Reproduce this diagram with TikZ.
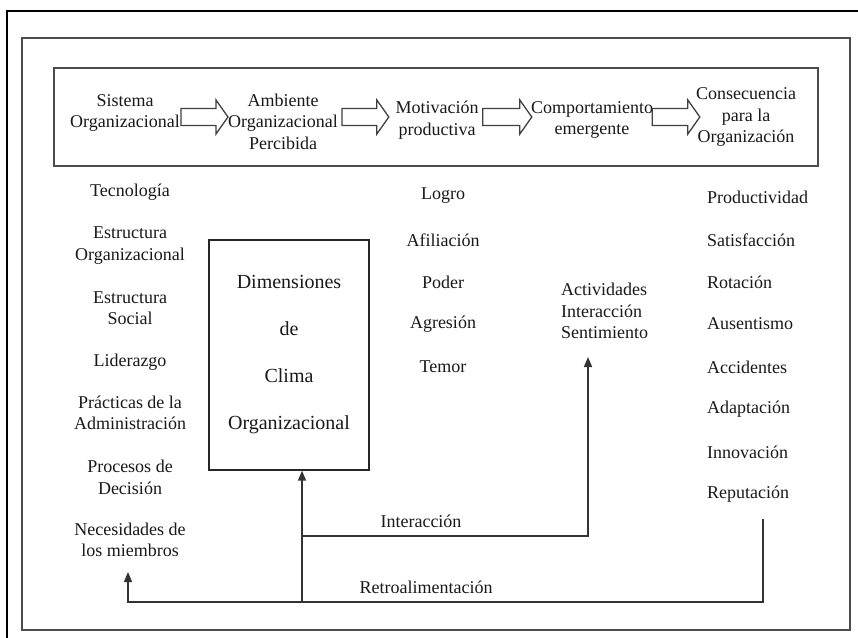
\documentclass[tikz,border=0pt]{standalone}
\usepackage{fontspec}
\setmainfont{Liberation Serif}
\usetikzlibrary{arrows.meta,calc}
\newcommand\myblockarrow[4]{%
  \draw[barrow] let \p1=(#1.east), \p2=(#2.west), \p3=(ay) in
    ({\x1+(#3pt)},{\y3+8.5pt}) -- ({\x2+(#4pt)-12pt},{\y3+8.5pt}) -- ({\x2+(#4pt)-12pt},{\y3+17pt})
    -- ({\x2+(#4pt)},{\y3}) -- ({\x2+(#4pt)-12pt},{\y3-17pt}) -- ({\x2+(#4pt)-12pt},{\y3-8.5pt})
    -- ({\x1+(#3pt)},{\y3-8.5pt}) -- cycle;}
\begin{document}
\begin{tikzpicture}[x=1pt,y=-1pt,
  txt/.style={inner sep=0pt,align=center,font=\fontsize{18}{21.5}\selectfont,text=black!90},
  ltxt/.style={txt,align=left,anchor=west},
  conn/.style={draw=black!80,line width=1.4pt},
  tipx/.style={-{Triangle[length=10pt,width=8pt]}},
  barrow/.style={draw=black!75,line width=1.3pt,fill=white},
  frame/.style={draw=black!70,line width=1.6pt}]
\useasboundingbox (0,0) rectangle (858,637);
\fill[white] (0,0) rectangle (858,637);
% frames
\draw[line width=2pt] (7,640) -- (7,11) -- (860,11);
\draw[frame] (22,38) rectangle (850,630);
\node[frame,minimum width=764pt,minimum height=98pt,inner sep=0pt] (topbox) at (436,117) {};
% top row
\coordinate (ay) at (0,117);
\node[txt] (s1) at (125,113) {Sistema\\Organizacional};
\node[txt] (s2) at (283,121.5) {Ambiente\\Organizacional\\Percibida};
\node[txt] (s3) at (437,120) {Motivación\\productiva};
\node[txt] (s4) at (592,120) {Comportamiento\\emergente};
\node[txt] (s5) at (746,117) {Consecuencia\\para la\\Organización};
\myblockarrow{s1}{s2}{1}{0}
\myblockarrow{s2}{s3}{4}{-6.5}
\myblockarrow{s3}{s4}{4}{1}
\myblockarrow{s4}{s5}{-1}{4}
% left column
\node[txt] (l1) at (130,192) {Tecnología};
\node[txt] (l2) at (130,245.5) {Estructura\\Organizacional};
\node[txt] (l3) at (130,308) {Estructura\\Social};
\node[txt] (l4) at (130,362) {Liderazgo};
\node[txt] (l5) at (130,413) {Prácticas de la\\Administración};
\node[txt] (l6) at (130,477.5) {Procesos de\\Decisión};
\node[txt] (l7) at (130,540) {Necesidades de\\los miembros};
% dimensiones box
\node[draw=black!85,line width=1.3pt,minimum width=160pt,minimum height=230pt,inner sep=0pt,
  align=center,font=\fontsize{20}{47}\selectfont,text=black!90] (dim) at (289,355)
  {Dimensiones\\de\\Clima\\Organizacional};
% motivation column
\node[txt] (m1) at (443,196) {Logro};
\node[txt] (m2) at (443,240) {Afiliación};
\node[txt] (m3) at (443,282) {Poder};
\node[txt] (m4) at (443,324) {Agresión};
\node[txt] (m5) at (443,367) {Temor};
% behaviour
\node[ltxt] (act) at (561,311) {Actividades\\Interacción\\Sentimiento};
% consequences
\node[ltxt] (r1) at (707,197) {Productividad};
\node[ltxt] (r2) at (707,240) {Satisfacción};
\node[ltxt] (r3) at (707,282) {Rotación};
\node[ltxt] (r4) at (707,324) {Ausentismo};
\node[ltxt] (r5) at (707,367) {Accidentes};
\node[ltxt] (r6) at (707,409) {Adaptación};
\node[ltxt] (r7) at (707,452) {Innovación};
\node[ltxt] (r8) at (707,494) {Reputación};
% connectors
\coordinate (fb) at (302,602);
\coordinate (ib) at (302,536);
\coordinate (itip) at (588,357);
\coordinate (rt) at (763,519);
\coordinate (nt) at (128,572);
\draw[conn,tipx] (fb) -- (fb |- dim.south);
\draw[conn,tipx] (ib) -| (itip);
\draw[conn,tipx] (rt) |- (fb) -| (nt);
\node[txt] (lint) at (421,521) {Interacción};
\node[txt] (lret) at (426,587) {Retroalimentación};
\end{tikzpicture}
\end{document}
